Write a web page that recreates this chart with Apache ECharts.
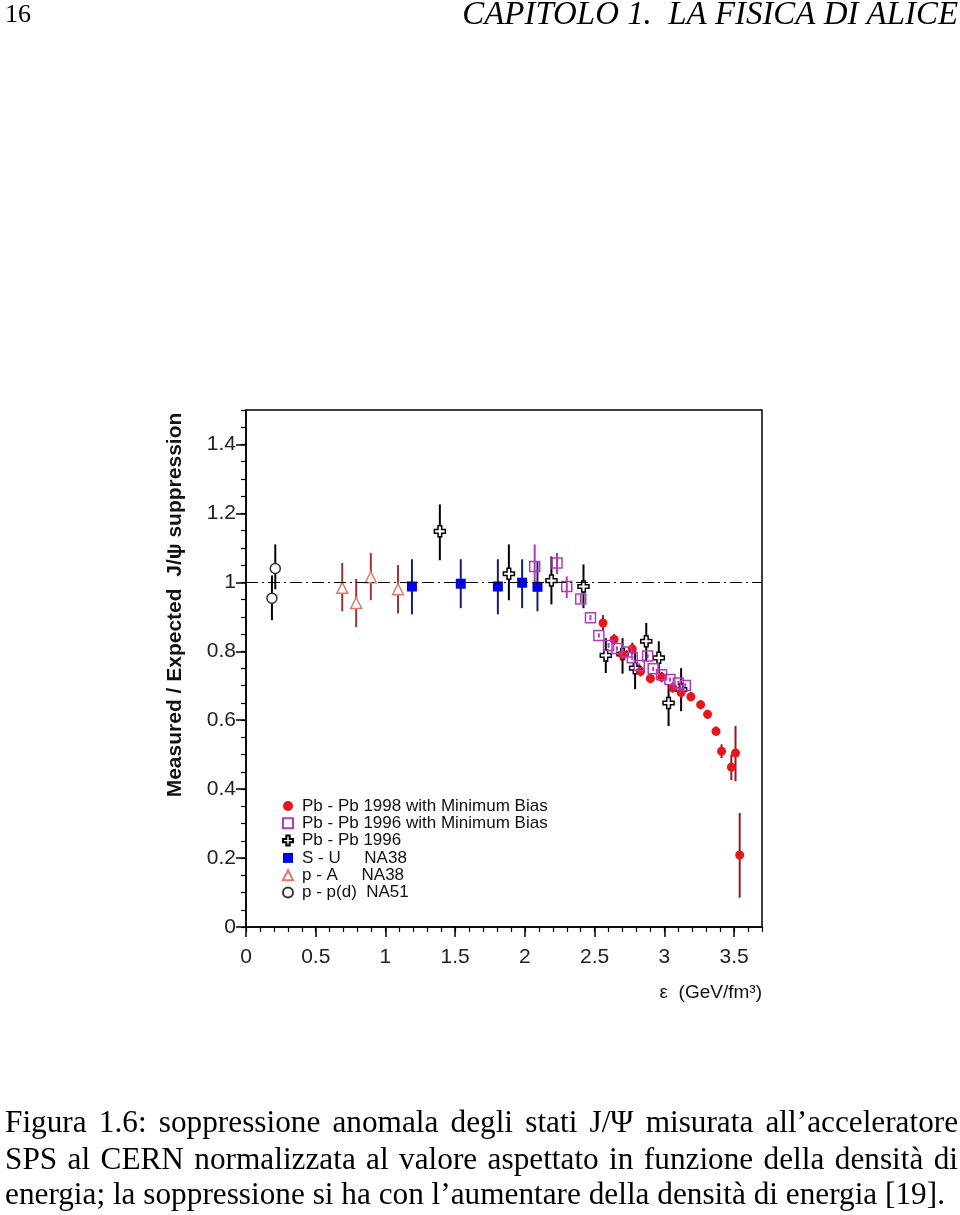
<!DOCTYPE html>
<html><head><meta charset="utf-8">
<script src="https://cdn.jsdelivr.net/npm/echarts@6/dist/echarts.min.js"></script>
<style>html,body{margin:0;padding:0;background:#fff}#c{width:960px;height:1215px}</style>
</head><body><div id="c"></div>
<script>
// ---- data: [energy density, ratio, error low, error high] ----
const pbpb98 = [
  [2.56,0.882,0.860,0.905],[2.64,0.834,0.818,0.850],[2.70,0.790,0.775,0.805],
  [2.77,0.807,0.790,0.825],[2.83,0.742,0.727,0.757],[2.90,0.721,0.707,0.735],
  [2.98,0.725,0.710,0.740],[3.06,0.694,0.680,0.710],[3.12,0.680,0.665,0.695],
  [3.19,0.668,0.655,0.682],[3.26,0.645,0.632,0.658],[3.31,0.617,0.604,0.630],
  [3.37,0.568,0.555,0.582],[3.41,0.510,0.490,0.530],[3.48,0.464,0.426,0.500],
  [3.51,0.505,0.423,0.583],[3.54,0.209,0.085,0.331]
];
const pbpb96mb = [
  [2.07,1.046,0.994,1.110],[2.23,1.056,1.024,1.085],[2.30,0.988,0.954,1.017],
  [2.40,0.952,0.940,0.965],[2.47,0.897,0.890,0.905],[2.53,0.846,0.840,0.852],
  [2.60,0.817,0.810,0.824],[2.66,0.808,0.802,0.814],[2.73,0.798,0.792,0.804],
  [2.77,0.781,0.775,0.787],[2.82,0.759,0.753,0.765],[2.88,0.786,0.780,0.792],
  [2.92,0.749,0.743,0.755],[2.98,0.732,0.726,0.738],[3.04,0.718,0.712,0.724],
  [3.10,0.708,0.702,0.714],[3.15,0.701,0.695,0.707]
];
const pbpb96 = [
  [1.39,1.148,1.064,1.226],[1.885,1.025,0.948,1.110],[2.19,1.005,0.936,1.075],
  [2.42,0.988,0.925,1.052],[2.58,0.788,0.737,0.838],[2.70,0.792,0.735,0.838],
  [2.79,0.751,0.690,0.806],[2.87,0.829,0.771,0.882],[2.96,0.781,0.737,0.829],
  [3.03,0.650,0.583,0.704],[3.12,0.689,0.626,0.751]
];
const su = [
  [1.19,0.988,0.907,1.067],[1.54,0.996,0.925,1.067],[1.806,0.988,0.907,1.067],
  [1.98,0.999,0.925,1.067],[2.09,0.987,0.916,1.060]
];
const pa = [
  [0.69,0.984,0.916,1.056],[0.79,0.940,0.870,1.010],[0.895,1.015,0.948,1.085],
  [1.09,0.980,0.910,1.050]
];
const pp = [
  [0.186,0.954,0.890,1.020],[0.21,1.040,0.980,1.110]
];
const seriesNames = [
  'Pb - Pb 1998 with Minimum Bias',
  'Pb - Pb 1996 with Minimum Bias',
  'Pb - Pb 1996',
  'S - U     NA38',
  'p - A     NA38',
  'p - p(d)  NA51'
];
const xTicks = [0,0.5,1,1.5,2,2.5,3,3.5];
const yTicks = [0,0.2,0.4,0.6,0.8,1,1.2,1.4];
const referenceLevel = 1;

const SANS = 'Liberation Sans, Arial, sans-serif';
const SERIF = 'Liberation Serif, Times New Roman, serif';
const crossPath = 'path://M4,0H8V4H12V8H8V12H4V8H0V4H4Z';

function errSeries(data, color){
  return {
    type:'custom', data:data, z:2, silent:true,
    encode:{x:0, y:[2,3]},
    renderItem:function(params, api){
      const x = api.value(0);
      const p1 = api.coord([x, api.value(2)]);
      const p2 = api.coord([x, api.value(3)]);
      return {type:'line', shape:{x1:p1[0],y1:p1[1],x2:p2[0],y2:p2[1]},
              style:{stroke:color, lineWidth:2}};
    }
  };
}
function pts(data){ return data.map(d => [d[0], d[1]]); }

const chart = echarts.init(document.getElementById('c'), null, {renderer:'canvas'});

// text measuring for the page caption
const mctx = document.createElement('canvas').getContext('2d');
function measure(t, size, style){
  mctx.font = (style||'') + ' ' + size + 'px "Liberation Serif"';
  return mctx.measureText(t).width;
}
const captionLines = [
  'Figura 1.6: soppressione anomala degli stati J/Ψ misurata all’acceleratore',
  'SPS al CERN normalizzata al valore aspettato in funzione della densità di',
  'energia; la soppressione si ha con l’aumentare della densità di energia [19].'
];
const capY = [1124, 1161, 1196];
let capSize = 100 * 940 / measure(captionLines[2], 100);
const gfx = [];
captionLines.forEach((line, i) => {
  if (i < 2) {
    const words = line.split(' ');
    const widths = words.map(w => measure(w, capSize));
    const total = widths.reduce((a,b)=>a+b,0);
    const gap = (953 - total) / (words.length - 1);
    let x = 5;
    words.forEach((w, k) => {
      gfx.push({type:'text', x:x, y:capY[i], silent:true,
        style:{text:w, font:capSize.toFixed(2)+'px '+SERIF, fill:'#000', textAlign:'left', textVerticalAlign:'middle'}});
      x += widths[k] + gap;
    });
  } else {
    gfx.push({type:'text', x:5, y:capY[i], silent:true,
      style:{text:line, font:capSize.toFixed(2)+'px '+SERIF, fill:'#000', textAlign:'left', textVerticalAlign:'middle'}});
  }
});
const headText = 'CAPITOLO 1.  LA FISICA DI ALICE';
const headSize = 100 * 496 / measure(headText, 100, 'italic');
gfx.push({type:'text', x:5, y:15, silent:true,
  style:{text:'16', font:'26px '+SERIF, fill:'#000', textAlign:'left', textVerticalAlign:'middle'}});
gfx.push({type:'text', x:958, y:15, silent:true,
  style:{text:headText, font:'italic '+headSize.toFixed(2)+'px '+SERIF, fill:'#000', textAlign:'right', textVerticalAlign:'middle'}});
// axis titles
gfx.push({type:'text', x:175, y:605, rotation:Math.PI/2, silent:true,
  style:{text:'Measured / Expected  J/ψ suppression', font:'bold 21px '+SANS, fill:'#111', textAlign:'center', textVerticalAlign:'middle'}});
gfx.push({type:'text', x:762, y:993, silent:true,
  style:{text:'ε  (GeV/fm³)', font:'19px '+SANS, fill:'#111', textAlign:'right', textVerticalAlign:'middle'}});

const option = {
  backgroundColor:'#fff',
  animation:false,
  grid:{left:246, top:410, width:516, height:517, show:true, borderColor:'#000', borderWidth:1.5, backgroundColor:'transparent'},
  xAxis:[
    {type:'value', min:0, max:3.7, position:'bottom',
     axisLine:{show:true, lineStyle:{color:'#000', width:1.5}},
     axisTick:{show:true, inside:false, length:10, customValues:xTicks, lineStyle:{color:'#000', width:1.5}},
     axisLabel:{customValues:xTicks, fontSize:21, color:'#222', fontFamily:SANS, margin:20},
     splitLine:{show:false}},
    {type:'value', min:0, max:3.7, interval:0.1, position:'bottom',
     axisLine:{show:false}, axisTick:{show:true, inside:false, length:5, lineStyle:{color:'#000', width:1.2}},
     axisLabel:{show:false}, splitLine:{show:false}}
  ],
  yAxis:[
    {type:'value', min:0, max:1.5, position:'left',
     axisLine:{show:true, lineStyle:{color:'#000', width:1.5}},
     axisTick:{show:true, inside:false, length:10, customValues:yTicks, lineStyle:{color:'#000', width:1.5}},
     axisLabel:{customValues:yTicks, fontSize:21, color:'#222', fontFamily:SANS, margin:10},
     splitLine:{show:false}},
    {type:'value', min:0, max:1.5, interval:0.05, position:'left',
     axisLine:{show:false}, axisTick:{show:true, inside:false, length:5, lineStyle:{color:'#000', width:1.2}},
     axisLabel:{show:false}, splitLine:{show:false}}
  ],
  legend:{
    orient:'vertical', left:282, top:797.5, padding:0, itemGap:0.3,
    itemWidth:10, itemHeight:10,
    textStyle:{fontFamily:SANS, fontSize:17, color:'#111', lineHeight:17, padding:[0,0,0,4]},
    data:seriesNames
  },
  graphic:gfx,
  series:[
    errSeries(pp, '#000'),
    errSeries(pa, '#a3303d'),
    errSeries(su, '#122078'),
    errSeries(pbpb96, '#000'),
    errSeries(pbpb96mb, '#b33bb8'),
    errSeries(pbpb98, '#8c1c22'),
    {name:seriesNames[5], type:'scatter', z:3, data:pts(pp), symbol:'circle', symbolSize:10,
     itemStyle:{color:'#fff', borderColor:'#333', borderWidth:1.5, opacity:1}},
    {name:seriesNames[4], type:'scatter', z:3, data:pts(pa), symbol:'triangle', symbolSize:11,
     itemStyle:{color:'#fff', borderColor:'#e0786a', borderWidth:1.5, opacity:1}},
    {name:seriesNames[3], type:'scatter', z:3, data:pts(su), symbol:'rect', symbolSize:10,
     itemStyle:{color:'#0000f0', opacity:1}},
    {name:seriesNames[2], type:'scatter', z:3, data:pts(pbpb96), symbol:crossPath, symbolSize:11,
     itemStyle:{color:'#fff', borderColor:'#000', borderWidth:1.5, opacity:1},
     markLine:{silent:true, symbol:['none','none'], label:{show:false},
       lineStyle:{color:'#000', width:1, type:[12,4,2,4]},
       data:[{yAxis:referenceLevel}]}},
    {name:seriesNames[1], type:'scatter', z:4, data:pts(pbpb96mb), symbol:'rect', symbolSize:10,
     itemStyle:{color:'rgba(255,255,255,0)', borderColor:'#b33bb8', borderWidth:1.5, opacity:1}},
    {name:seriesNames[0], type:'scatter', z:3, data:pts(pbpb98), symbol:'circle', symbolSize:9,
     itemStyle:{color:'#e8151b', opacity:1}}
  ]
};
chart.setOption(option);
</script></body></html>
